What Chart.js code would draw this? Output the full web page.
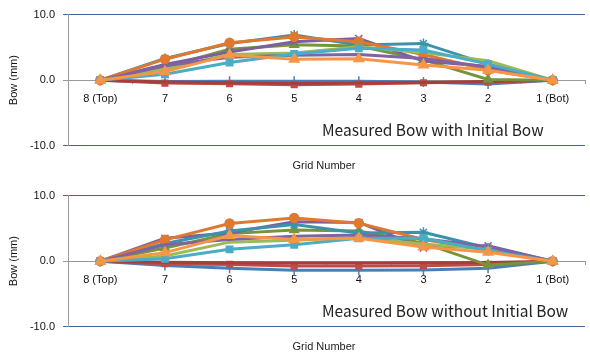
<!DOCTYPE html>
<html>
<head>
<meta charset="utf-8">
<script src="https://cdn.jsdelivr.net/npm/chart.js@4.4.1/dist/chart.umd.min.js"></script>
<style>
  html, body { margin: 0; padding: 0; background: #fff; overflow: hidden; }
  .box { position: absolute; left: 0; width: 592px; height: 171px; }
</style>
</head>
<body>
<div class="box" style="top:0"><canvas id="withBow"></canvas></div>
<div class="box" style="top:181px"><canvas id="withoutBow"></canvas></div>
<script>
const gridNumbers = ["8 (Top)", "7", "6", "5", "4", "3", "2", "1 (Bot)"];
const yTicks = [-10, 0, 10];

// measured bow with initial bow (mm)
const withBlue        = [0, -0.2, -0.15, -0.15, -0.15, -0.3, -0.6, 0];
const withRed         = [0, -0.45, -0.55, -0.7, -0.6, -0.4, -0.3, 0];
const withDarkRed     = [0, -0.3, -0.4, -0.5, -0.45, -0.35, -0.2, 0];
const withOlive       = [0, 2.0, 4.7, 5.4, 5.2, 3.1, 0.1, 0];
const withPurple      = [0, 2.4, 4.3, 5.85, 6.35, 2.9, 2.1, 0];
const withTeal        = [0, 3.3, 5.6, 6.9, 5.35, 5.6, 2.4, 0];
const withOrange      = [0, 3.2, 5.7, 6.6, 5.85, 3.9, 1.55, 0];
const withLightGreen  = [0, 1.7, 3.9, 4.15, 5.1, 4.2, 2.95, 0];
const withLightPurple = [0, 2.2, 3.5, 3.8, 3.9, 3.3, 2.0, 0];
const withAqua        = [0, 0.9, 2.7, 4.0, 4.85, 4.6, 2.45, 0];
const withLightOrange = [0, 1.3, 3.85, 3.2, 3.25, 2.3, 1.5, 0];

// measured bow without initial bow (mm)
const woBlue        = [0, -0.65, -1.1, -1.4, -1.4, -1.35, -1.1, 0];
const woRed         = [0, -0.4, -0.5, -0.75, -0.75, -0.7, -0.5, 0];
const woDarkRed     = [0, -0.15, -0.25, -0.3, -0.3, -0.25, -0.2, 0];
const woOlive       = [0, 2.0, 4.2, 4.75, 4.6, 2.75, -0.6, 0];
const woPurple      = [0, 3.5, 4.3, 6.0, 5.9, 2.0, 2.35, 0];
const woTeal        = [0, 2.7, 4.6, 5.6, 4.3, 4.4, 2.0, 0];
const woOrange      = [0, 3.25, 5.75, 6.6, 5.8, 3.3, 1.7, 0];
const woLightGreen  = [0, 0.8, 2.9, 3.2, 3.6, 2.6, 1.8, 0];
const woLightPurple = [0, 2.5, 3.3, 3.8, 4.0, 3.4, 2.2, 0];
const woAqua        = [0, 0.35, 1.8, 2.5, 3.5, 3.5, 1.6, 0];
const woLightOrange = [0, 1.3, 3.9, 3.3, 3.5, 2.15, 1.35, 0];

const seriesStyle = [
  { color: "#4A7EBB", marker: "cross", r: 5 },
  { color: "#BE4B48", marker: "rect", r: 4 },
  { color: "#A83E3C", marker: false, r: 0 },
  { color: "#77933C", marker: "triangle", r: 5 },
  { color: "#7D5FA0", marker: "crossRot", r: 5 },
  { color: "#3A93AB", marker: "star", r: 5 },
  { color: "#E0782F", marker: "circle", r: 4.5 },
  { color: "#9BBB59", marker: false, r: 0 },
  { color: "#8064A2", marker: false, r: 0 },
  { color: "#4BACC6", marker: "rect", r: 4.5 },
  { color: "#F79646", marker: "triangle", r: 5.5 }
];

const FONT = "'Liberation Sans', Arial, sans-serif";

// text inside the plot (chart title) and the axis caption under it
const captions = {
  id: "captions",
  afterDraw(chart, args, opts) {
    const { ctx, chartArea } = chart;
    ctx.save();
    ctx.fillStyle = "#222";
    ctx.textBaseline = "middle";
    ctx.textAlign = "left";
    ctx.font = "15.5px 'Noto Sans CJK KR', 'Noto Sans', sans-serif";
    ctx.fillText(opts.title, chartArea.left + 254, chartArea.bottom - 16);
    ctx.textAlign = "center";
    ctx.font = "11px " + FONT;
    ctx.fillText("Grid Number", chartArea.left + 256, chartArea.bottom + 20);
    ctx.restore();
  }
};

function drawChart(id, title, series) {
  new Chart(document.getElementById(id), {
    type: "line",
    data: {
      labels: gridNumbers,
      datasets: series.map((values, i) => ({
        data: values,
        borderColor: seriesStyle[i].color,
        backgroundColor: seriesStyle[i].color,
        borderWidth: 3,
        pointStyle: seriesStyle[i].marker,
        pointRadius: seriesStyle[i].r,
        pointBorderWidth: 1.5,
        tension: 0,
        order: series.length - i
      }))
    },
    plugins: [captions],
    options: {
      responsive: true,
      maintainAspectRatio: false,
      animation: false,
      layout: { padding: { top: 12, right: 0, bottom: 25.3, left: 0 } },
      plugins: {
        legend: { display: false },
        tooltip: { enabled: false },
        captions: { title: title }
      },
      scales: {
        x: {
          type: "category",
          offset: true,
          position: { y: 0 },
          grid: { drawOnChartArea: false, offset: true, tickLength: 3, color: "#999" },
          border: { color: "#999" },
          ticks: { padding: 9, color: "#111", font: { family: FONT, size: 11 }, maxRotation: 0, autoSkip: false }
        },
        y: {
          min: -10,
          max: 10,
          afterBuildTicks: (s) => { s.ticks = yTicks.map((v) => ({ value: v })); },
          afterFit: (s) => { s.width = 68; },
          ticks: { padding: 8, color: "#111", font: { family: FONT, size: 11 }, callback: (v) => v.toFixed(1) },
          grid: { color: (c) => (c.tick && c.tick.value === 0 ? "#999" : "#44689c"), tickLength: 5 },
          border: { color: "#999" },
          title: { display: true, text: "Bow (mm)", color: "#111", font: { family: FONT, size: 11 }, padding: { top: 7, bottom: 0 } }
        }
      }
    }
  });
}

drawChart("withBow", "Measured Bow with Initial Bow", [
  withBlue, withRed, withDarkRed, withOlive, withPurple, withTeal,
  withOrange, withLightGreen, withLightPurple, withAqua, withLightOrange
]);
drawChart("withoutBow", "Measured Bow without Initial Bow", [
  woBlue, woRed, woDarkRed, woOlive, woPurple, woTeal,
  woOrange, woLightGreen, woLightPurple, woAqua, woLightOrange
]);
</script>
</body>
</html>
